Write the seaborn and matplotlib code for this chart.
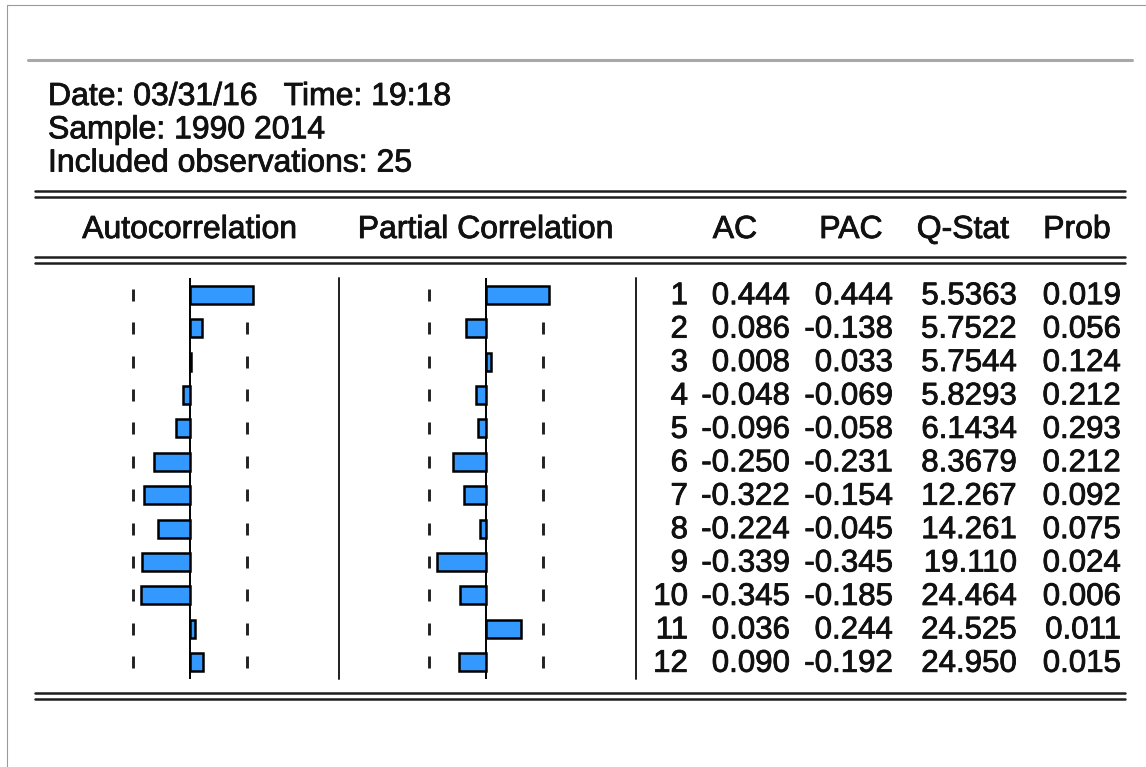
import numpy as np
import pandas as pd
import matplotlib.pyplot as plt
import matplotlib.patheffects as pe
import seaborn as sns

# ----- DATA -----
info_lines = ['Date: 03/31/16   Time: 19:18', 'Sample: 1990 2014', 'Included observations: 25']
n_obs = 25
lags = list(range(1, 13))
ac = [0.444, 0.086, 0.008, -0.048, -0.096, -0.250, -0.322, -0.224, -0.339, -0.345, 0.036, 0.090]
pac = [0.444, -0.138, 0.033, -0.069, -0.058, -0.231, -0.154, -0.045, -0.345, -0.185, 0.244, -0.192]
q_stat = [5.5363, 5.7522, 5.7544, 5.8293, 6.1434, 8.3679, 12.267, 14.261, 19.110, 24.464, 24.525, 24.950]
prob = [0.019, 0.056, 0.124, 0.212, 0.293, 0.212, 0.092, 0.075, 0.024, 0.006, 0.011, 0.015]
headers = ['Autocorrelation', 'Partial Correlation', 'AC', 'PAC', 'Q-Stat', 'Prob']

df = pd.DataFrame({'lag': lags, 'ac': ac, 'pac': pac})
bound = 2 / np.sqrt(n_obs)

sns.set_theme(style='white')
plt.rcParams['font.family'] = ['Liberation Sans', 'DejaVu Sans']

# ----- LAYOUT (pixels) -----
W, H = 1146, 767
TOP, BOTTOM = 278, 679
ROW_H = (BOTTOM - TOP) / len(lags)
SCALE = 142.5  # pixels per unit of correlation
FS = 22.5
BAR = '#3399ff'
LINE = '#1e1e1e'
TXT = '#111111'
heavy = [pe.withStroke(linewidth=0.6, foreground=TXT)]

fig = plt.figure(figsize=(W / 100, H / 100), dpi=100)
bg = fig.add_axes([0, 0, 1, 1])
bg.set_xlim(0, W)
bg.set_ylim(H, 0)
bg.axis('off')


def corr_panel(col, zero_px, left_px, right_px):
    ax = fig.add_axes([left_px / W, 1 - BOTTOM / H, (right_px - left_px) / W, (BOTTOM - TOP) / H])
    for i in range(len(lags)):
        ax.vlines([-bound, bound], i - 0.18, i + 0.18, color='#222222', lw=2.1, zorder=1)
    ax.axvline(0, color='black', lw=1.4, zorder=2)
    sns.barplot(data=df, x=col, y='lag', orient='h', order=lags, color=BAR, saturation=1,
                edgecolor='black', linewidth=1.8, width=0.54, errorbar=None, ax=ax, zorder=3)
    ax.set_xlim((left_px - zero_px) / SCALE, (right_px - zero_px) / SCALE)
    ax.set_ylim(len(lags) - 0.5, -0.5)
    ax.axis('off')
    return ax


corr_panel('ac', 190, 90, 330)
corr_panel('pac', 486, 380, 626)

# frame lines
bg.plot([7, 7], [5, H], color='#9a9a9a', lw=0.8)
bg.plot([7, W], [5, 5], color='#9a9a9a', lw=0.8)
bg.plot([28, 1132], [60, 60], color='#a8a8a8', lw=2.2)
for y in [190.5, 196.8, 256.8, 263.3, 692.5, 698.8]:
    bg.plot([35, 1125], [y, y], color=LINE, lw=1.8)
for x in [339, 636]:
    bg.plot([x, x], [TOP, BOTTOM], color=LINE, lw=1.4)

# info text
for k, line in enumerate(info_lines):
    bg.text(48, 105 + k * 33.3, line, fontsize=23, ha='left', va='baseline', color=TXT,
            path_effects=heavy)

# column headers
for label, xc in zip(headers, [190, 486, 735, 851, 963, 1077]):
    bg.text(xc, 238, label, fontsize=23, ha='center', va='baseline', color=TXT,
            path_effects=heavy)

# table values
for i in range(len(lags)):
    yb = TOP + (i + 0.5) * ROW_H + 9.5
    q = q_stat[i]
    q_txt = f'{q:.4f}' if q < 10 else f'{q:.3f}'
    cells = [str(lags[i]), f'{ac[i]:.3f}', f'{pac[i]:.3f}', q_txt, f'{prob[i]:.3f}']
    for txt, xr in zip(cells, [688, 790, 893, 1017, 1121]):
        bg.text(xr, yb, txt, fontsize=FS, ha='right', va='baseline', color=TXT,
                path_effects=heavy)

fig.savefig('out.png', dpi=100)
